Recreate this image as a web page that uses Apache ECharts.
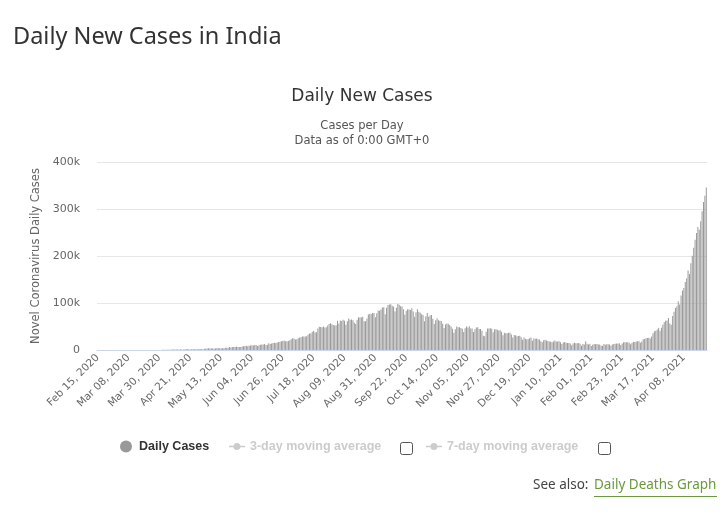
<!DOCTYPE html>
<html>
<head>
<meta charset="utf-8">
<script src="https://cdn.jsdelivr.net/npm/echarts@6/dist/echarts.min.js"></script>
<style>
html,body{margin:0;padding:0;background:#fff;}
#chart{width:724px;height:513px;}
</style>
</head>
<body>
<div id="chart"></div>
<script>
// ---- Data (daily new cases, India) ----
const startDate = [2020, 1, 15]; // Feb 15, 2020
const feb2020 = [0,0,0,0,0,0,0,0,0,0,0,0,0,0,0];
const mar2020 = [0,2,1,22,1,2,3,5,9,15,8,5,11,10,14,25,14,24,38,26,50,86,66,103,37,121,70,160,100,82,247];
const apr2020 = [601,545,624,524,654,683,565,809,873,848,1035,909,704,1463,1118,878,1007,1893,1342,1540,1290,1486,1667,1408,1835,1607,1568,1902,1705,1801];
const may2020 = [2396,2564,2952,3656,2971,3602,3344,3339,3175,4311,3592,3562,3726,3942,3787,4864,5050,4628,6147,5553,6198,6568,6629,7111,6414,6387,6566,7467,7964,8380,8789];
const jun2020 = [7723,8812,9633,9889,9471,10438,10864,8442,9985,10956,11929,11502,12881,10667,11135,14516,12881,13586,14821,15413,14933,15968,16922,17296,18552,19906,19459,18522,18653,19148];
const jul2020 = [20903,22771,24850,24248,22252,22752,24879,26506,27114,28637,28701,28498,29429,32695,34956,35252,38902,40425,37148,37724,45720,49310,48916,48661,49931,47704,48513,52123,55078,57118,54735];
const aug2020 = [52972,52050,52509,62170,56282,62538,61537,64399,62064,53601,60963,66999,64553,65002,63490,57981,55079,64531,69652,68898,69878,70488,61408,60975,67151,75760,77266,76472,78761,78512,69921];
const sep2020 = [78357,83883,83341,86432,90632,90802,75809,89706,95735,96551,97570,94372,92071,81911,90123,97894,96424,93337,92605,86961,75083,83347,86508,86052,85362,88600,82170,70589,80472,86821];
const oct2020 = [81484,79476,75829,74442,61267,72049,78524,70496,73272,74383,66732,55342,63509,67708,63371,62212,61871,55722,46790,54044,56130,55839,53370,50129,45149,36469,43893,49881,48648,48268,46963];
const nov2020 = [45231,38310,46253,50210,47638,50357,45674,45903,38073,44281,47905,48648,44879,44684,41100,30548,29163,38617,45576,45882,46232,45209,37975,44059,44376,43082,41322,41810,38772,31118];
const dec2020 = [36604,35668,35551,36594,36652,32981,26567,32080,31521,29398,30006,30254,27071,22065,26382,24010,22890,22889,25153,26624,19556,24712,23950,24712,23067,22273,18732,16432,20550,21821,20035];
const jan2021 = [19079,18177,18088,16504,18088,20346,18139,18222,18645,16311,12584,15968,16946,15590,15158,15144,13788,10064,13823,15223,14545,14256,14849,13203,9102,12689,11666,18855,13083,11611,13052];
const feb2021 = [8635,11039,12899,12408,12923,11831,11713,9110,9110,12923,11067,12143,12194,11649,9121,11610,12881,13193,13993,13993,14199,10584,13742,16738,16577,16488,16752,15510];
const mar2021 = [12286,14989,17407,16838,18327,18711,18599,15388,17921,22854,23285,24882,25320,26291,24492,28903,35871,39726,40953,43846,46951,40715,47262,53476,59118,62258,62714,68020,56211,53480,72330];
const apr2021 = [81466,89129,93249,103558,96982,115736,126789,131968,144829,152879,168912,161736,184372,200739,217353,234692,249000,261500,256000,273810,295041,314835,328000,346000];

const dailyCases = [].concat(feb2020, mar2020, apr2020, may2020, jun2020, jul2020, aug2020, sep2020, oct2020, nov2020, dec2020, jan2021, feb2021, mar2021, apr2021);
const monthNames = ['Jan','Feb','Mar','Apr','May','Jun','Jul','Aug','Sep','Oct','Nov','Dec'];
const yTicks = [0, 100000, 200000, 300000, 400000];

// categories: one per day from the start date
const categories = [];
for (let i = 0; i < dailyCases.length; i++) {
  const d = new Date(Date.UTC(startDate[0], startDate[1], startDate[2] + i));
  const dd = String(d.getUTCDate()).padStart(2, '0');
  categories.push(monthNames[d.getUTCMonth()] + ' ' + dd + ', ' + d.getUTCFullYear());
}

const lineIcon = 'path://M0,3.2 L16,3.2 L16,4.8 L0,4.8 Z M8,0.5 A3.5,3.5 0 1 1 7.99,0.5 Z';

const chart = echarts.init(document.getElementById('chart'), null, {renderer: 'canvas'});
const FONT = 'DejaVu Sans';
chart.setOption({
  animation: false,
  backgroundColor: '#ffffff',
  title: [
    {text: 'Daily New Cases in India', left: 8, top: 20,
     textStyle: {fontFamily: 'Noto Sans', fontSize: 23.5, fontWeight: 'normal', color: '#333'}},
    {text: 'Daily New Cases', left: 'center', top: 83,
     textStyle: {fontFamily: FONT, fontSize: 17, fontWeight: 'normal', color: '#333'}},
    {text: 'Cases per Day\nData as of 0:00 GMT+0', left: 'center', top: 114,
     textStyle: {fontFamily: FONT, fontSize: 11.5, fontWeight: 'normal', color: '#555', lineHeight: 15, align: 'center'}}
  ],
  grid: {left: 97, right: 17, top: 162, bottom: 163, containLabel: false},
  legend: [
    {data: [{name: 'Daily Cases', icon: 'circle'}], left: 115, top: 435, itemWidth: 12, itemHeight: 12,
     textStyle: {fontFamily: 'Liberation Sans', fontSize: 12.5, fontWeight: 'bold', color: '#333', padding: [0,0,0,2]},
     selected: {'Daily Cases': true, '3-day moving average': false, '7-day moving average': false}},
    {data: [{name: '3-day moving average', icon: lineIcon, itemStyle: {color: '#ccc'}}], left: 224, top: 435, itemWidth: 16, itemHeight: 8,
     inactiveColor: '#ccc',
     textStyle: {fontFamily: 'Liberation Sans', fontSize: 12.5, fontWeight: 'bold', color: '#ccc'}},
    {data: [{name: '7-day moving average', icon: lineIcon, itemStyle: {color: '#ccc'}}], left: 421, top: 435, itemWidth: 16, itemHeight: 8,
     inactiveColor: '#ccc',
     textStyle: {fontFamily: 'Liberation Sans', fontSize: 12.5, fontWeight: 'bold', color: '#ccc'}}
  ],
  xAxis: {
    type: 'category',
    data: categories,
    boundaryGap: true,
    axisLine: {lineStyle: {color: '#ccd6eb'}},
    axisTick: {show: false},
    axisLabel: {interval: 21, rotate: 45, margin: 6, color: '#666', fontFamily: FONT, fontSize: 10.5}
  },
  yAxis: {
    type: 'value', min: 0, max: 400000, interval: 100000,
    name: 'Novel Coronavirus Daily Cases', nameLocation: 'middle', nameGap: 54, nameRotate: 90,
    nameTextStyle: {fontFamily: FONT, fontSize: 11.5, color: '#666'},
    axisLine: {show: false}, axisTick: {show: false},
    splitLine: {lineStyle: {color: '#e6e6e6'}},
    axisLabel: {margin: 17, color: '#666', fontFamily: FONT, fontSize: 11,
      formatter: v => (yTicks.indexOf(v) >= 0 ? (v === 0 ? '0' : (v / 1000) + 'k') : '')}
  },
  series: [
    {name: 'Daily Cases', type: 'bar', data: dailyCases, barWidth: 1,
     itemStyle: {color: '#999999'}},
    {name: '3-day moving average', type: 'line', data: [], symbol: 'circle', symbolSize: 6,
     itemStyle: {color: '#cccccc'}, lineStyle: {color: '#cccccc'}},
    {name: '7-day moving average', type: 'line', data: [], symbol: 'circle', symbolSize: 6,
     itemStyle: {color: '#cccccc'}, lineStyle: {color: '#cccccc'}}
  ],
  graphic: [
    {type: 'rect', shape: {x: 400.5, y: 442.5, width: 12, height: 12, r: 2},
     style: {fill: '#fff', stroke: '#555', lineWidth: 1}},
    {type: 'rect', shape: {x: 598.5, y: 442.5, width: 12, height: 12, r: 2},
     style: {fill: '#fff', stroke: '#555', lineWidth: 1}},
    {type: 'text', left: 533, top: 478,
     style: {text: 'See also:', fontFamily: 'Noto Sans', fontSize: 13.5, fill: '#444'}},
    {type: 'text', left: 594, top: 478,
     style: {text: 'Daily Deaths Graph', fontFamily: 'Noto Sans', fontSize: 13.5, fill: '#6b9a3e'}},
    {type: 'line', shape: {x1: 594, y1: 496.5, x2: 717, y2: 496.5},
     style: {stroke: '#6b9a3e', lineWidth: 1}}
  ]
});
</script>
</body>
</html>
